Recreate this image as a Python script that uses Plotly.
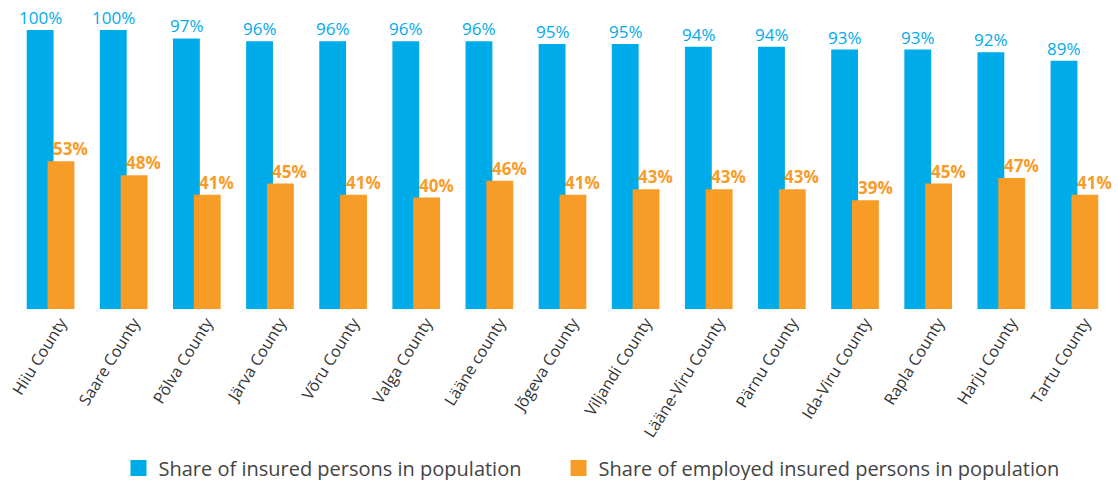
import plotly.graph_objects as go

counties = ["Hiiu County", "Saare County", "Põlva County", "Järva County", "Võru County",
            "Valga County", "Lääne county", "Jõgeva County", "Viljandi County",
            "Lääne-Viru County", "Pärnu County", "Ida-Viru County", "Rapla County",
            "Harju County", "Tartu County"]
insured = [100, 100, 97, 96, 96, 96, 96, 95, 95, 94, 94, 93, 93, 92, 89]
employed = [53, 48, 41, 45, 41, 40, 46, 41, 43, 43, 43, 39, 45, 47, 41]

BLUE = "#00ABE9"
ORANGE = "#F89C28"
FONT = "Open Sans"
NAME_BLUE = "Share of insured persons in population"
NAME_ORANGE = "Share of employed insured persons in population"

fig = go.Figure()
fig.add_trace(go.Bar(
    x=counties, y=insured, name=NAME_BLUE, showlegend=False,
    marker=dict(color=BLUE, line=dict(width=0)),
    width=0.367, offset=-0.326, cliponaxis=False,
))
fig.add_trace(go.Bar(
    x=counties, y=employed, name=NAME_ORANGE, showlegend=False,
    marker=dict(color=ORANGE, line=dict(width=0)),
    width=0.367, offset=-0.041, cliponaxis=False,
))
# legend entries with larger square symbols, each in its own legend box
fig.add_trace(go.Scatter(x=[None], y=[None], mode="markers", name=NAME_BLUE,
                         legend="legend",
                         marker=dict(symbol="square", size=16, color=BLUE)))
fig.add_trace(go.Scatter(x=[None], y=[None], mode="markers", name=NAME_ORANGE,
                         legend="legend2",
                         marker=dict(symbol="square", size=16, color=ORANGE)))

for c, v in zip(counties, insured):
    fig.add_annotation(x=c, y=v, text=f"{v}%", showarrow=False,
                       xanchor="center", yanchor="bottom", xshift=-10, yshift=-1,
                       font=dict(color=BLUE, size=17, family=FONT))
for c, v in zip(counties, employed):
    fig.add_annotation(x=c, y=v, text=f"<b>{v}%</b>", showarrow=False,
                       xanchor="center", yanchor="bottom", xshift=20, yshift=-1,
                       font=dict(color=ORANGE, size=17, family=FONT))

legend_style = dict(orientation="h", xref="container", yref="container", xanchor="left",
                    y=0.025, yanchor="middle", font=dict(size=20, color="#444444"),
                    itemwidth=30, bgcolor="rgba(0,0,0,0)")

fig.update_layout(
    width=1118, height=480,
    margin=dict(l=7, r=7, t=30, b=170),
    barmode="overlay",
    plot_bgcolor="white", paper_bgcolor="white",
    font=dict(family=FONT, color="#333333"),
    showlegend=True,
    legend=dict(x=0.106, **legend_style),
    legend2=dict(x=0.4996, **legend_style),
    xaxis=dict(range=[-0.5, len(counties) - 0.5], tickangle=-58, ticklabelshift=10,
               tickfont=dict(size=16, color="#333333", family=FONT),
               showgrid=False, showline=False, zeroline=False, ticks=""),
    yaxis=dict(range=[0, 100], visible=False, showgrid=False, zeroline=False),
)

fig.write_html("out.html")
